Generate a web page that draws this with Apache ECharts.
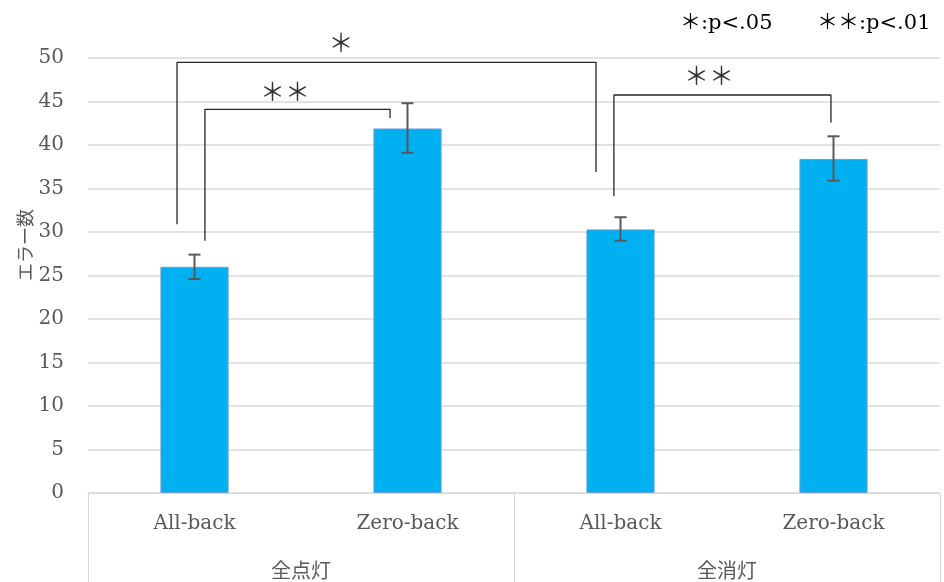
<!DOCTYPE html>
<html>
<head>
<meta charset="utf-8">
<script src="https://cdn.jsdelivr.net/npm/echarts@6/dist/echarts.min.js"></script>
<style>
  html, body { margin: 0; padding: 0; background: #fff; }
  #chart { width: 944px; height: 582px; }
</style>
</head>
<body>
<div id="chart"></div>
<script>
// Conditions and lighting groups
const categories = ['All-back', 'Zero-back', 'All-back', 'Zero-back'];
const groups = ['全点灯', '全消灯'];
const yTitle = 'エラー数';

// Mean error counts and error-bar range per condition
const meanErrors = [26.0, 41.9, 30.3, 38.4];
const errLow = [24.6, 39.1, 29.0, 35.9];
const errHigh = [27.4, 44.8, 31.7, 41.0];

// Value axis
const yMin = 0, yMax = 50, yStep = 5;

// Significance brackets (x in category units, 0..4; y in error counts)
const bracketAllOn = [[0.418, 30.9], [0.418, 49.5], [2.385, 49.5], [2.385, 36.9]];
const bracketLightsOn = [[0.549, 29.0], [0.549, 44.1], [1.418, 44.1], [1.418, 43.1]];
const bracketLightsOff = [[2.469, 34.1], [2.469, 45.75], [3.488, 45.75], [3.488, 42.6]];
const sigMarks = [[1.188, 51.8, '＊'], [0.925, 46.1, '＊＊'], [2.915, 48.0, '＊＊']];

const serif = '"DejaVu Serif", "Noto Sans CJK JP", serif';
const cjk = '"Noto Sans CJK JP", sans-serif';
const grey = '#595959';

const chart = echarts.init(document.getElementById('chart'), null, { renderer: 'canvas' });

function bracketSeries(points) {
  return {
    type: 'line',
    xAxisIndex: 2,
    data: points,
    symbol: 'none',
    silent: true,
    clip: false,
    lineStyle: { color: '#262626', width: 1.3 },
    z: 5
  };
}

chart.setOption({
  animation: false,
  grid: { left: 88, right: 4, top: 58, bottom: 89, containLabel: false },
  graphic: [
    {
      type: 'text', left: 680, top: 13,
      style: { text: '＊:p<.05', font: '21px ' + serif, fill: '#000' }
    },
    {
      type: 'text', left: 817, top: 13,
      style: { text: '＊＊:p<.01', font: '21px ' + serif, fill: '#000' }
    },
    {
      // vertical axis title
      type: 'text', x: 25, y: 245, rotation: Math.PI / 2,
      style: { text: yTitle, font: '18px ' + cjk, fill: grey, align: 'center', verticalAlign: 'middle' }
    }
  ],
  xAxis: [
    {
      type: 'category',
      data: categories,
      position: 'bottom',
      axisLine: { show: true, lineStyle: { color: '#d9d9d9', width: 1 } },
      axisTick: { show: false },
      axisLabel: { color: grey, fontFamily: serif, fontSize: 20, margin: 21 }
    },
    {
      type: 'category',
      data: groups,
      position: 'bottom',
      axisLine: { show: false },
      axisTick: { show: true, length: 89, interval: 0, lineStyle: { color: '#d9d9d9', width: 1 } },
      axisLabel: { color: grey, fontFamily: cjk, fontSize: 20, margin: 67 }
    },
    { type: 'value', min: 0, max: 4, show: false }
  ],
  yAxis: {
    type: 'value',
    min: yMin, max: yMax, interval: yStep,
    axisLine: { show: false },
    axisTick: { show: false },
    axisLabel: { color: grey, fontFamily: serif, fontSize: 20, margin: 24 },
    splitLine: { lineStyle: { color: '#d9d9d9', width: 1.5 } }
  },
  series: [
    {
      type: 'bar',
      xAxisIndex: 0,
      data: meanErrors,
      barWidth: '32%',
      itemStyle: { color: '#00b0f0', borderColor: '#6a9fd8', borderWidth: 1 },
      z: 2
    },
    {
      type: 'custom',
      xAxisIndex: 0,
      data: categories.map((c, i) => [i, errLow[i], errHigh[i]]),
      renderItem: function (params, api) {
        const lo = api.coord([api.value(0), api.value(1)]);
        const hi = api.coord([api.value(0), api.value(2)]);
        const cap = 6;
        const style = { stroke: '#595959', lineWidth: 2 };
        return {
          type: 'group',
          children: [
            { type: 'line', shape: { x1: hi[0], y1: hi[1], x2: lo[0], y2: lo[1] }, style: style },
            { type: 'line', shape: { x1: hi[0] - cap, y1: hi[1], x2: hi[0] + cap, y2: hi[1] }, style: style },
            { type: 'line', shape: { x1: lo[0] - cap, y1: lo[1], x2: lo[0] + cap, y2: lo[1] }, style: style }
          ]
        };
      },
      z: 4
    },
    bracketSeries(bracketAllOn),
    bracketSeries(bracketLightsOn),
    bracketSeries(bracketLightsOff),
    {
      type: 'scatter',
      xAxisIndex: 2,
      data: sigMarks.map(m => ({ value: [m[0], m[1]], name: m[2] })),
      symbolSize: 0,
      clip: false,
      silent: true,
      label: {
        show: true,
        position: 'inside',
        formatter: p => p.name,
        color: '#000',
        fontFamily: cjk,
        fontSize: 25
      }
    }
  ]
});
</script>
</body>
</html>
